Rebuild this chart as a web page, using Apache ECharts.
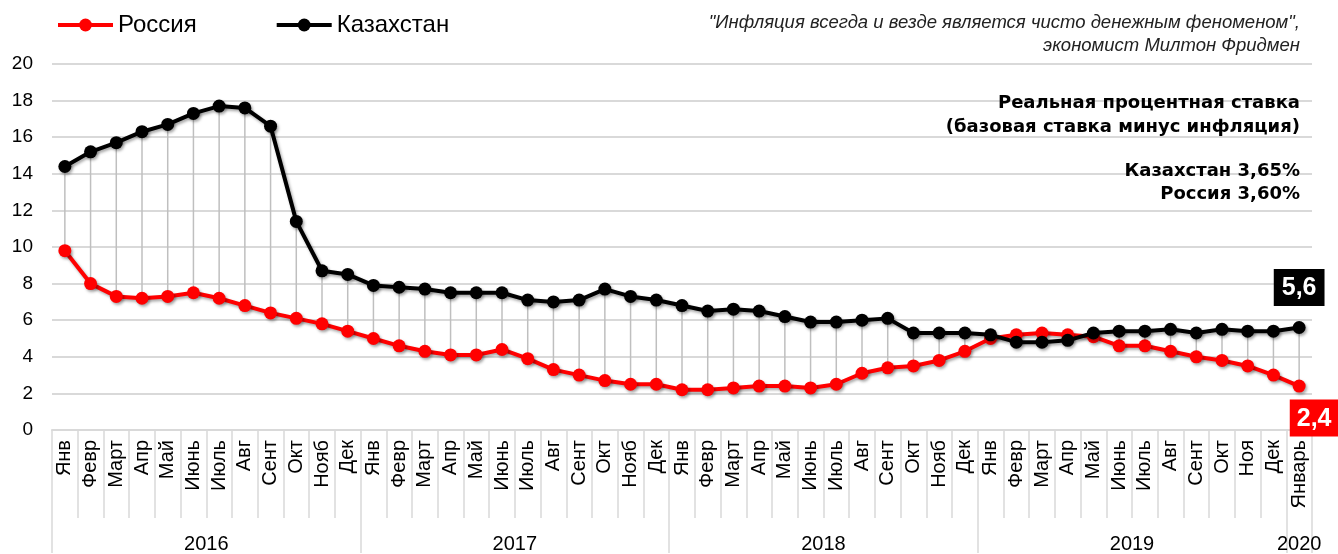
<!DOCTYPE html>
<html><head><meta charset="utf-8">
<script src="https://cdn.jsdelivr.net/npm/echarts@6/dist/echarts.min.js"></script>
<style>html,body{margin:0;padding:0;background:#fff}#c{width:1338px;height:554px}</style>
</head><body><div id="c"></div>
<script>
var months = ['Янв','Февр','Март','Апр','Май','Июнь','Июль','Авг','Сент','Окт','Нояб','Дек',
  'Янв','Февр','Март','Апр','Май','Июнь','Июль','Авг','Сент','Окт','Нояб','Дек',
  'Янв','Февр','Март','Апр','Май','Июнь','Июль','Авг','Сент','Окт','Нояб','Дек',
  'Янв','Февр','Март','Апр','Май','Июнь','Июль','Авг','Сент','Окт','Ноя','Дек',
  'Январь'];
var years = ['2016','2017','2018','2019','2020'];
var yearLengths = [12,12,12,12,1];
var kazakhstan = [14.4,15.2,15.7,16.3,16.7,17.3,17.7,17.6,16.6,11.4,8.7,8.5,
  7.9,7.8,7.7,7.5,7.5,7.5,7.1,7.0,7.1,7.7,7.3,7.1,
  6.8,6.5,6.6,6.5,6.2,5.9,5.9,6.0,6.1,5.3,5.3,5.3,
  5.2,4.8,4.8,4.9,5.3,5.4,5.4,5.5,5.3,5.5,5.4,5.4,
  5.6];
var russia = [9.8,8.0,7.3,7.2,7.3,7.5,7.2,6.8,6.4,6.1,5.8,5.4,
  5.0,4.6,4.3,4.1,4.1,4.4,3.9,3.3,3.0,2.7,2.5,2.5,
  2.2,2.2,2.3,2.4,2.4,2.3,2.5,3.1,3.4,3.5,3.8,4.3,
  5.0,5.2,5.3,5.2,5.1,4.6,4.6,4.3,4.0,3.8,3.5,3.0,
  2.4];
var yTicks = {min:0, max:20, interval:2};
var quoteLines = ['"Инфляция всегда и везде является чисто денежным феноменом",', 'экономист Милтон Фридмен'];
var noteLines = ['Реальная процентная ставка', '(базовая ставка минус инфляция)'];
var rateLines = ['Казахстан 3,65%', 'Россия 3,60%'];

// half-month positions for the year axis
var halfData = [], yearLabelAt = {}, yearTickAt = {};
(function(){
  for (var k=0;k<=months.length*2;k++) halfData.push('');
  var start = 0;
  yearTickAt[0] = true;
  for (var i=0;i<years.length;i++){
    var mid = start + yearLengths[i];
    halfData[mid] = years[i];
    yearLabelAt[mid] = true;
    start += yearLengths[i]*2;
    yearTickAt[start] = true;
  }
})();

var last = months.length-1;
var fmt = function(v){ return String(v).replace('.', ','); };
var kzData = kazakhstan.map(function(v,i){
  return i===last ? {value:v, label:{show:true, position:'top', distance:15,
    formatter:function(p){return fmt(p.value);}, color:'#fff', backgroundColor:'#000',
    fontSize:25, fontWeight:'bold', fontFamily:'Liberation Sans', padding:[7,8,5,8]}} : v;
});
var ruData = russia.map(function(v,i){
  return i===last ? {value:v, label:{show:true, position:'bottom', distance:7, offset:[15,0],
    formatter:function(p){return fmt(p.value);}, color:'#fff', backgroundColor:'#ff0000',
    fontSize:25, fontWeight:'bold', fontFamily:'Liberation Sans', padding:[7,7,5,7]}} : v;
});
var dropData = kazakhstan.map(function(v,i){ return [i, v, russia[i]]; });

var shadow = {shadowBlur:3, shadowColor:'rgba(0,0,0,0.35)', shadowOffsetX:1.5, shadowOffsetY:2};

function textLines(lines, tops, font, fill){
  return lines.map(function(t, i){
    return {type:'text', right:38, top:tops[i], z:100,
      style:{text:t, font:font, fill:fill}};
  });
}

var chart = echarts.init(document.getElementById('c'), null, {renderer:'canvas'});
chart.setOption({
  animation:false,
  textStyle:{fontFamily:'Liberation Sans'},
  grid:{left:52, right:26, top:64, bottom:123, containLabel:false},
  legend:{
    left:51, top:8, itemWidth:55, itemHeight:16, itemGap:78,
    lineStyle:{width:4},
    textStyle:{fontSize:24, color:'#000', fontFamily:'Liberation Sans'},
    data:['Россия','Казахстан']
  },
  xAxis:[{
    type:'category', data:months, boundaryGap:true,
    axisLine:{show:true, lineStyle:{color:'#d9d9d9', width:2}},
    axisTick:{show:true, interval:0, length:88, lineStyle:{color:'#d9d9d9', width:1.5}},
    axisLabel:{interval:0, rotate:90, fontSize:20, color:'#000', margin:10, fontFamily:'Liberation Sans'},
    splitLine:{show:false}
  },{
    type:'category', data:halfData, boundaryGap:false, position:'bottom',
    axisLine:{show:false},
    axisTick:{show:true, length:123, interval:function(i){return !!yearTickAt[i];}, lineStyle:{color:'#d9d9d9', width:1.5}},
    axisLabel:{interval:function(i){return !!yearLabelAt[i];}, fontSize:20, color:'#000', margin:104, fontFamily:'Liberation Sans'},
    splitLine:{show:false}
  }],
  yAxis:{
    type:'value', min:yTicks.min, max:yTicks.max, interval:yTicks.interval,
    axisLine:{show:false}, axisTick:{show:false},
    axisLabel:{fontSize:19, color:'#000', margin:19, fontFamily:'Liberation Sans'},
    splitLine:{lineStyle:{color:'#d9d9d9', width:2}}
  },
  graphic:[].concat(
    textLines(quoteLines, [13, 36], 'italic 18.5px "Liberation Sans"', '#222'),
    textLines(noteLines, [94, 118], 'bold 18px "DejaVu Sans"', '#000'),
    textLines(rateLines, [162, 185], 'bold 18px "DejaVu Sans"', '#000')
  ),
  series:[{
    type:'custom', name:'drop', xAxisIndex:0, z:1, silent:true,
    renderItem:function(params, api){
      var p1 = api.coord([api.value(0), api.value(1)]);
      var p2 = api.coord([api.value(0), api.value(2)]);
      return {type:'line', shape:{x1:p1[0], y1:p1[1], x2:p2[0], y2:p2[1]},
        style:{stroke:'#bfbfbf', lineWidth:1.5}};
    },
    encode:{x:0, y:[1,2]},
    data:dropData
  },{
    name:'Россия', type:'line', xAxisIndex:0, z:3, data:ruData,
    symbol:'circle', symbolSize:13,
    lineStyle:Object.assign({color:'#ff0000', width:4}, shadow),
    itemStyle:Object.assign({color:'#ff0000'}, shadow)
  },{
    name:'Казахстан', type:'line', xAxisIndex:0, z:4, data:kzData,
    symbol:'circle', symbolSize:13,
    lineStyle:Object.assign({color:'#000', width:4}, shadow),
    itemStyle:Object.assign({color:'#000'}, shadow)
  }]
});
</script></body></html>
